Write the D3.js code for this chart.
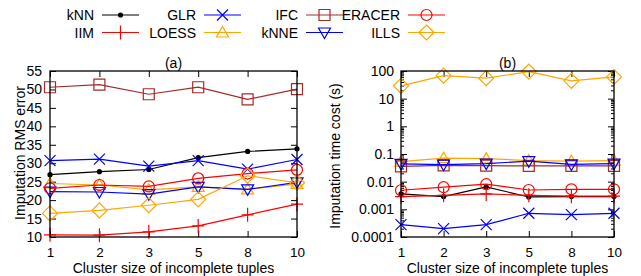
<!DOCTYPE html>
<html>
<head>
<meta charset="utf-8">
<script src="https://cdn.jsdelivr.net/npm/d3@7"></script>
<style>
body{margin:0;background:#fff;}
text{font-family:"Liberation Sans",Arial,Helvetica,sans-serif;font-size:14px;fill:#000;}
.axis path{display:none;}
.axis line{stroke:#000;stroke-width:1;}
</style>
</head>
<body>
<svg id="chart" width="641" height="276"></svg>
<script>
const categories=["1","2","3","5","8","10"];
const methods=["kNN","IIM","GLR","LOESS","IFC","kNNE","ERACER","ILLS"];
const colors=["#000000","#ff0000","#0000ff","#ffa500","#a52a2a","#0000ff","#ff0000","#ffa500"];
const markers=["dot","plus","cross","triUp","square","triDown","circle","diamond"];

// (a) imputation RMS error
const rmsKNN=[26.9,27.7,28.3,31.5,33.2,33.9];
const rmsIIM=[10.6,10.5,11.4,13.0,16.0,18.9];
const rmsGLR=[30.7,31.1,29.2,30.7,28.4,31.0];
const rmsLOESS=[24.5,24.1,22.8,23.6,22.9,24.4];
const rmsIFC=[50.6,51.3,48.7,50.6,47.3,50.1];
const rmsKNNE=[22.3,22.2,21.6,23.6,22.9,24.8];
const rmsERACER=[23.2,24.1,23.7,25.9,27.2,28.2];
const rmsILLS=[16.4,17.2,18.6,20.2,26.6,24.7];

// (b) imputation time cost (s)
const timeKNN=[0.0036,0.0029,0.0065,0.0028,0.0029,0.0029];
const timeIIM=[0.0029,0.0032,0.0036,0.0032,0.0030,0.0030];
const timeGLR=[0.00028,0.0002,0.00028,0.00072,0.00064,0.00072];
const timeLOESS=[0.053,0.071,0.068,0.058,0.055,0.058];
const timeIFC=[0.036,0.039,0.038,0.037,0.037,0.037];
const timeKNNE=[0.044,0.041,0.045,0.055,0.042,0.045];
const timeERACER=[0.0049,0.0063,0.0081,0.005,0.0053,0.0053];
const timeILLS=[29,68,55,95,44,61];

const rmsTicks=[10,15,20,25,30,35,40,45,50,55];
const timeTicks=[0.0001,0.001,0.01,0.1,1,10,100];
const timeTickLabels=["0.0001","0.001","0.01","0.1","1","10","100"];

const rmsData=[rmsKNN,rmsIIM,rmsGLR,rmsLOESS,rmsIFC,rmsKNNE,rmsERACER,rmsILLS];
const timeData=[timeKNN,timeIIM,timeGLR,timeLOESS,timeIFC,timeKNNE,timeERACER,timeILLS];

const svg=d3.select("#chart");

const markerPath=(type)=>{
  switch(type){
    case "plus": return "M-6,0H6M0,-7V7";
    case "cross": return "M-5.5,-5.5L5.5,5.5M-5.5,5.5L5.5,-5.5";
    case "triUp": return "M0,-6L6,4.5L-6,4.5Z";
    case "triDown": return "M0,6L6,-4.5L-6,-4.5Z";
    case "square": return "M-5.5,-5.5H5.5V5.5H-5.5Z";
    case "diamond": return "M0,-7.5L7.5,0L0,7.5L-7.5,0Z";
    case "circle": return "M5.5,0A5.5,5.5 0 1,1 -5.5,0A5.5,5.5 0 1,1 5.5,0Z";
  }
  return null;
}

const drawMarker=(g,type,color)=>{
  if(type==="dot"){
    g.append("circle").attr("r",2.6).attr("fill",color);
  } else {
    g.append("path").attr("d",markerPath(type))
      .attr("fill","none").attr("stroke",color).attr("stroke-width",1.2);
  }
}

// legend
methods.forEach((m,i)=>{
  let col=Math.floor(i/2), row=i%2;
  let x0=col*102, y0=15+row*17.5;
  svg.append("text").attr("x",x0+94).attr("y",y0).attr("text-anchor","end")
    .attr("dominant-baseline","central").text(m);
  svg.append("line").attr("x1",x0+102).attr("x2",x0+139).attr("y1",y0).attr("y2",y0)
    .attr("stroke",colors[i]).attr("stroke-width",1.2);
  let g=svg.append("g").attr("transform",`translate(${x0+120.5},${y0})`);
  drawMarker(g,markers[i],colors[i]);
});

const drawPanel=(opts)=>{
  let x=d3.scalePoint().domain(categories).range([opts.left,opts.right]);
  let y=opts.y;
  let top=71,bottom=237;

  // inward ticks, mirrored
  svg.append("g").attr("class","axis").attr("transform",`translate(${opts.left},0)`)
    .call(d3.axisLeft(y).tickValues(opts.ticks).tickSize(-6).tickPadding(opts.pad)
      .tickFormat((d,i)=>opts.labels[i]));
  svg.append("g").attr("class","axis").attr("transform",`translate(${opts.right},0)`)
    .call(d3.axisRight(y).tickValues(opts.ticks).tickSize(-6).tickFormat(""));
  if(opts.minor){
    svg.append("g").attr("class","axis").attr("transform",`translate(${opts.left},0)`)
      .call(d3.axisLeft(y).tickValues(opts.minor).tickSize(-3).tickFormat(""));
    svg.append("g").attr("class","axis").attr("transform",`translate(${opts.right},0)`)
      .call(d3.axisRight(y).tickValues(opts.minor).tickSize(-3).tickFormat(""));
  }
  svg.append("g").attr("class","axis xaxis").attr("transform",`translate(0,${bottom})`)
    .call(d3.axisBottom(x).tickSize(-6).tickPadding(10));
  svg.append("g").attr("class","axis").attr("transform",`translate(0,${top})`)
    .call(d3.axisTop(x).tickSize(-6).tickFormat(""));
  svg.selectAll(".axis text").style("font-size","14px");
  svg.selectAll(".xaxis text").style("font-size","13.5px");

  let line=d3.line().x((d,i)=>x(categories[i])).y((d)=>y(d));
  opts.data.forEach((vals,k)=>{
    svg.append("path").datum(vals).attr("d",line)
      .attr("fill","none").attr("stroke",colors[k]).attr("stroke-width",1.2);
    vals.forEach((v,i)=>{
      let g=svg.append("g").attr("transform",`translate(${x(categories[i])},${y(v)})`);
      drawMarker(g,markers[k],colors[k]);
    });
  });

  svg.append("rect").attr("x",opts.left).attr("y",top)
    .attr("width",opts.right-opts.left).attr("height",bottom-top)
    .attr("fill","none").attr("stroke","#000").attr("stroke-width",1.3);

  let cx=(opts.left+opts.right)/2;
  svg.append("text").attr("x",cx).attr("y",68).attr("text-anchor","middle").text(opts.title);
  svg.append("text").attr("x",cx).attr("y",273).attr("text-anchor","middle")
    .text("Cluster size of incomplete tuples");
  svg.append("text").attr("transform",`translate(${opts.labelX},${opts.labelY}) rotate(-90)`)
    .attr("text-anchor","middle").attr("dominant-baseline","central").text(opts.ylabel);
}

drawPanel({
  left:50,right:297,
  y:d3.scaleLinear().domain([10,55]).range([237,71]),
  ticks:rmsTicks,labels:rmsTicks.map(String),pad:8,
  data:rmsData,title:"(a)",ylabel:"Imputation RMS error",labelX:20,labelY:153
});

let minorTicks=[];
timeTicks.slice(0,-1).forEach((t)=>{
  for(let k=2;k<10;k++) minorTicks.push(t*k);
});

drawPanel({
  left:401,right:614,
  y:d3.scaleLog().domain([0.0001,100]).range([237,71]),
  ticks:timeTicks,labels:timeTickLabels,pad:7,minor:minorTicks,
  data:timeData,title:"(b)",ylabel:"Imputation time cost (s)",labelX:335,labelY:156
});
</script>
</body>
</html>
